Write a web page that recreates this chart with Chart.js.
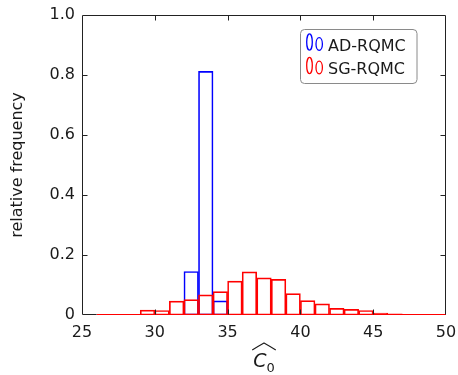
<!DOCTYPE html>
<html><head><meta charset="utf-8">
<script src="https://cdn.jsdelivr.net/npm/chart.js@4/dist/chart.umd.min.js"></script>
<style>html,body{margin:0;padding:0;background:#fff}</style>
</head><body>
<div style="width:458px;height:375px"><canvas id="c" width="458" height="375"></canvas></div>
<script>
// ---- data ----
const binWidth = 1;
const adBinStarts = [32, 33, 34];
const adValues = [0.145, 0.812, 0.047];
const sgBinStarts = [26,27,28,29,30,31,32,33,34,35,36,37,38,39,40,41,42,43,44,45,46,47,48,49];
const sgValues = [0,0,0,0.016,0.015,0.046,0.051,0.067,0.078,0.113,0.144,0.124,0.119,0.071,0.048,0.037,0.022,0.019,0.015,0.006,0.004,0.002,0,0];
const seriesNames = ['AD-RQMC', 'SG-RQMC'];
const seriesColors = ['#0000ff', '#ff0000'];
const xTicks = [25, 30, 35, 40, 45, 50];
const yTicks = [0, 0.2, 0.4, 0.6, 0.8, 1.0];
const yTitle = 'relative frequency';

const toPts = (starts, vals) => starts.map((s, i) => ({x: s + binWidth / 2, y: vals[i]}));
const FONT = '"DejaVu Sans", sans-serif';

const decor = {
  id: 'decor',
  afterDatasetsDraw(chart) {
    const {ctx, chartArea: ca, scales: {x, y}} = chart;
    ctx.save();
    // red baseline of SG histogram
    ctx.strokeStyle = seriesColors[1];
    ctx.lineWidth = 1;
    const y0 = Math.round(y.getPixelForValue(0)) - 0.5;
    ctx.beginPath();
    ctx.moveTo(x.getPixelForValue(sgBinStarts[0]), y0);
    ctx.lineTo(x.getPixelForValue(sgBinStarts[sgBinStarts.length - 1] + binWidth), y0);
    ctx.stroke();
    // frame
    ctx.strokeStyle = '#222';
    ctx.lineWidth = 1;
    const L = Math.round(ca.left) + 0.5, R = Math.round(ca.right) - 0.5;
    const T = Math.round(ca.top) + 0.5, B = Math.round(ca.bottom) - 0.5;
    ctx.beginPath();
    ctx.moveTo(L, T); ctx.lineTo(R, T); ctx.lineTo(R, B); ctx.stroke();
    ctx.beginPath();
    ctx.moveTo(L, T); ctx.lineTo(L, B);
    ctx.moveTo(L, B); ctx.lineTo(x.getPixelForValue(sgBinStarts[0]), B);
    ctx.stroke();
    // inward ticks
    const tl = 5;
    ctx.beginPath();
    xTicks.forEach(v => {
      const px = Math.round(x.getPixelForValue(v)) + 0.5;
      if (v === xTicks[0] || v === xTicks[xTicks.length - 1]) return;
      ctx.moveTo(px, B); ctx.lineTo(px, B - tl);
      ctx.moveTo(px, T); ctx.lineTo(px, T + tl);
    });
    yTicks.forEach(v => {
      const py = Math.round(y.getPixelForValue(v)) + 0.5;
      if (v === yTicks[0] || v === yTicks[yTicks.length - 1]) return;
      ctx.moveTo(L, py); ctx.lineTo(L + tl, py);
      ctx.moveTo(R, py); ctx.lineTo(R - tl, py);
    });
    ctx.stroke();

    // y title
    ctx.fillStyle = '#1a1a1a';
    ctx.font = '16px ' + FONT;
    ctx.textAlign = 'center';
    ctx.textBaseline = 'middle';
    ctx.save();
    ctx.translate(18, (ca.top + ca.bottom) / 2);
    ctx.rotate(-Math.PI / 2);
    ctx.fillText(yTitle, 0, 0);
    ctx.restore();

    // x title: widehat C_0
    const cx = (ca.left + ca.right) / 2;
    ctx.textAlign = 'left';
    ctx.textBaseline = 'alphabetic';
    ctx.font = 'italic 19px ' + FONT;
    const wC = ctx.measureText('C').width;
    ctx.font = '13px ' + FONT;
    const w0 = ctx.measureText('0').width;
    const total = wC + w0;
    const sx = cx - total / 2;
    const base = ca.bottom + 52;
    ctx.font = 'italic 19px ' + FONT;
    ctx.fillText('C', sx, base);
    ctx.font = '13px ' + FONT;
    ctx.fillText('0', sx + wC, base + 5);
    ctx.strokeStyle = '#1a1a1a';
    ctx.lineWidth = 1.1;
    ctx.beginPath();
    ctx.moveTo(sx - 1, base - 17);
    ctx.quadraticCurveTo(cx - total / 4, base - 21, cx, base - 24);
    ctx.quadraticCurveTo(cx + total / 4, base - 21, sx + total + 1, base - 17);
    ctx.stroke();

    // legend
    const bx = ca.right - 145.5, by = ca.top + 14.5, bw = 116.5, bh = 54;
    ctx.strokeStyle = '#8a8a8a';
    ctx.lineWidth = 1;
    ctx.beginPath();
    ctx.roundRect(bx, by, bw, bh, 4);
    ctx.fillStyle = '#fff';
    ctx.fill();
    ctx.stroke();
    seriesNames.forEach((name, i) => {
      const oy = by + i * 23.5;
      ctx.strokeStyle = seriesColors[i];
      ctx.lineWidth = 1.3;
      ctx.beginPath();
      ctx.ellipse(bx + 9, oy + 12.5, 2.8, 8.2, 0, 0, Math.PI * 2);
      ctx.stroke();
      ctx.beginPath();
      ctx.ellipse(bx + 18.7, oy + 14.5, 3.2, 6.3, 0, 0, Math.PI * 2);
      ctx.stroke();
      ctx.fillStyle = '#1a1a1a';
      ctx.font = '16px ' + FONT;
      ctx.textAlign = 'left';
      ctx.textBaseline = 'alphabetic';
      ctx.fillText(name, bx + 27.5, oy + 21);
    });
    ctx.restore();
  }
};

new Chart(document.getElementById('c'), {
  type: 'bar',
  data: {
    datasets: [
      {label: seriesNames[0], data: toPts(adBinStarts, adValues), borderColor: seriesColors[0],
       backgroundColor: 'rgba(0,0,0,0)', borderWidth: 1, borderSkipped: false, order: 1},
      {label: seriesNames[1], data: toPts(sgBinStarts, sgValues), borderColor: seriesColors[1],
       backgroundColor: 'rgba(0,0,0,0)', borderWidth: 1, borderSkipped: false, order: 0}
    ]
  },
  options: {
    responsive: false,
    animation: false,
    devicePixelRatio: 1,
    grouped: false,
    barPercentage: 1,
    categoryPercentage: 1,
    layout: {padding: {top: 15, right: 12, left: 0, bottom: 0}},
    plugins: {legend: {display: false}, tooltip: {enabled: false}},
    scales: {
      x: {
        type: 'linear', min: xTicks[0], max: xTicks[xTicks.length - 1], offset: false,
        grid: {display: false, drawTicks: false}, border: {display: false},
        afterBuildTicks: s => { s.ticks = xTicks.map(v => ({value: v})); },
        afterFit: s => { s.height = 60; s.paddingLeft = 0; s.paddingRight = 0; },
        ticks: {font: {family: FONT, size: 16}, color: '#1a1a1a', padding: 8, maxRotation: 0,
                callback: v => String(v)}
      },
      y: {
        min: 0, max: 1,
        grid: {display: false, drawTicks: false}, border: {display: false},
        afterBuildTicks: s => { s.ticks = yTicks.map(v => ({value: v})); },
        afterFit: s => { s.width = 82; s.paddingTop = 0; s.paddingBottom = 0; },
        ticks: {font: {family: FONT, size: 16}, color: '#1a1a1a', padding: 7,
                callback: v => v === 0 ? '0' : v.toFixed(1)}
      }
    }
  },
  plugins: [decor]
});
</script>
</body></html>
